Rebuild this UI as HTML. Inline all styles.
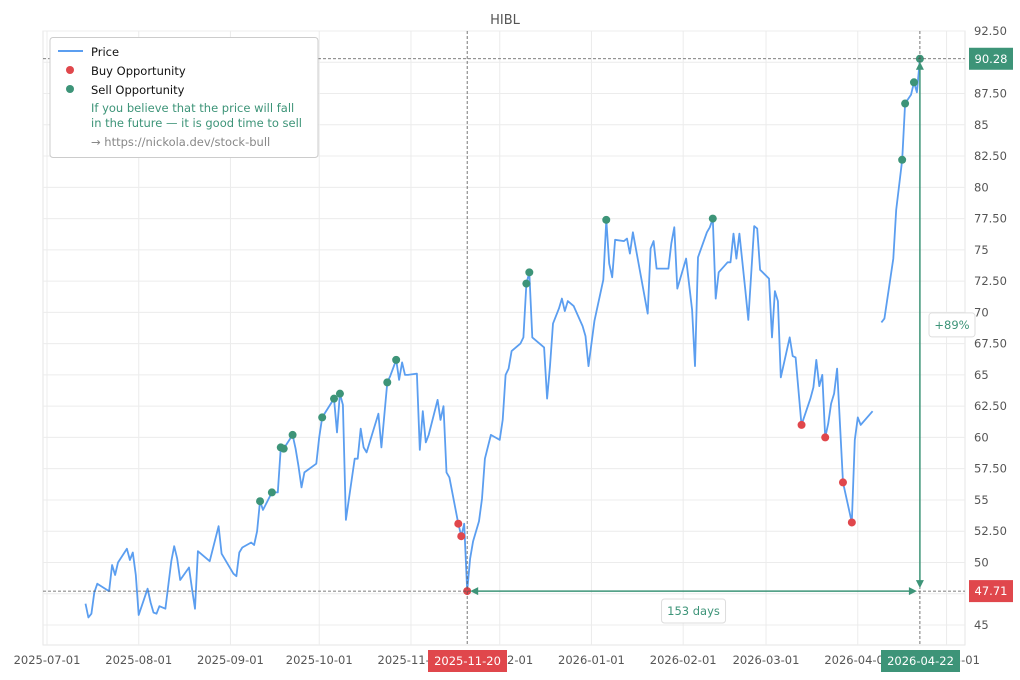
<!DOCTYPE html>
<html><head><meta charset="utf-8">
<style>
body{margin:0;background:#fff;}
svg{display:block;font-family:"DejaVu Sans","Liberation Sans",sans-serif;}
</style></head>
<body>
<svg id="chart" width="1020" height="680" viewBox="0 0 1020 680" xmlns="http://www.w3.org/2000/svg">
<text x="505" y="24" text-anchor="middle" font-size="13" fill="#555">HIBL</text>
<g id="grid"></g>
<g id="series"></g>
<g id="annot"></g>
<g id="legend">
  <rect x="50" y="37.5" width="268" height="120" rx="3" fill="#fff" stroke="#ccc"/>
  <line x1="58" y1="51" x2="83" y2="51" stroke="#5b9ef0" stroke-width="2"/>
  <text x="91" y="56" font-size="11.5" fill="#111">Price</text>
  <circle cx="70" cy="70" r="4" fill="#e0474c"/>
  <text x="91" y="75" font-size="11.5" fill="#111">Buy Opportunity</text>
  <circle cx="70" cy="89" r="4" fill="#3d9478"/>
  <text x="91" y="94" font-size="11.5" fill="#111">Sell Opportunity</text>
  <text x="91" y="112" font-size="11.5" fill="#3d9478">If you believe that the price will fall</text>
  <text x="91" y="127" font-size="11.5" fill="#3d9478">in the future — it is good time to sell</text>
  <text x="91" y="146" font-size="11.5" fill="#888">→ https://nickola.dev/stock-bull</text>
</g>
</svg>
<script>
const tickLabels=["2025-07-01","2025-08-01","2025-09-01","2025-10-01","2025-11-01","2025-12-01","2026-01-01","2026-02-01","2026-03-01","2026-04-01","2026-05-01"];
const tickDays=[0,31,62,92,123,153,184,215,243,274,304];
const yTicks=[45,47.5,50,52.5,55,57.5,60,62.5,65,67.5,70,72.5,75,77.5,80,82.5,85,87.5,90,92.5];
const days=[13,14,15,16,17,21,22,23,24,27,28,29,30,31,34,35,36,37,38,40,42,43,44,45,48,49,50,51,55,58,59,63,64,65,66,69,70,71,72,73,76,78,79,80,83,84,85,86,87,91,92,93,97,98,99,100,101,104,105,106,107,108,112,113,115,116,118,119,120,121,122,125,126,127,128,129,132,133,134,135,136,139,140,141,142,143,144,146,147,148,150,153,154,155,156,157,160,161,162,163,164,168,169,170,171,173,174,175,176,178,181,182,183,185,188,189,190,191,192,195,196,197,198,203,204,205,206,209,210,211,212,213,216,218,219,220,223,224,225,226,227,230,231,232,233,234,236,237,239,240,241,244,245,246,247,248,251,252,253,255,258,259,260,261,262,263,264,265,266,267,269,272,273,274,275,279,280,282,283,286,287,289,290,292,293,294,295];
const prices=[46.7,45.6,45.9,47.6,48.3,47.7,49.8,49.0,50.0,51.1,50.2,50.8,49.0,45.8,47.9,46.8,46.0,45.9,46.5,46.3,50.1,51.3,50.3,48.6,49.6,47.9,46.3,50.9,50.1,52.9,50.7,49.1,48.9,50.8,51.2,51.6,51.4,52.5,54.9,54.2,55.6,55.6,59.2,59.1,60.2,59.1,57.7,56.0,57.2,57.9,60.0,61.6,63.1,60.4,63.5,62.6,53.4,58.3,58.3,60.7,59.2,58.8,61.9,59.2,64.4,64.9,66.2,64.6,66.0,65.0,65.0,65.1,59.0,62.1,59.6,60.2,63.0,61.4,62.5,57.2,56.8,53.1,52.1,53.1,47.71,50.3,51.7,53.3,55.1,58.3,60.2,59.8,61.4,65.0,65.5,66.9,67.5,68.0,72.3,73.2,68.0,67.2,63.1,65.7,69.1,70.3,71.1,70.1,70.9,70.5,68.9,68.1,65.7,69.3,72.6,77.4,73.9,72.8,75.8,75.7,75.9,74.7,76.4,69.9,75.1,75.7,73.5,73.5,73.5,75.5,76.8,71.9,74.3,70.2,65.7,74.4,76.4,76.8,77.5,71.1,73.2,74.0,74.0,76.3,74.3,76.3,71.8,69.4,76.9,76.7,73.4,72.7,68.0,71.7,70.9,64.8,68.0,66.5,66.4,61.0,63.1,64.0,66.2,64.1,65.0,60.0,61.1,62.7,63.5,65.5,56.4,53.2,59.8,61.6,61.0,62.1,null,69.2,69.5,74.3,78.2,82.2,86.7,87.4,88.4,87.6,90.28];
const buyDays=[139,140,142,255,263,269,272];
const sellDays=[72,76,79,80,83,93,97,99,115,118,162,163,189,225,289,290,293,295];
const startDay=142, endDay=295, startPrice=47.71, endPrice=90.28;
const startLabel="2025-11-20", endLabel="2026-04-22", spanLabel="153 days", pctLabel="+89%";

const NS="http://www.w3.org/2000/svg";
const X0=47,PXD=2.959,Y0=31,PXV=12.505;
const xs=d=>X0+d*PXD;
const ys=v=>Y0+(92.5-v)*PXV;
const fmtY=v=>Number.isInteger(v)?String(v):v.toFixed(2);
function mk(tag,attrs,parent,text){const e=document.createElementNS(NS,tag);for(const k in attrs)e.setAttribute(k,attrs[k]);if(text!==undefined)e.textContent=text;parent.appendChild(e);return e;}
const grid=document.getElementById('grid'),ser=document.getElementById('series'),an=document.getElementById('annot');
mk('rect',{x:43,y:31,width:922,height:614,fill:'none',stroke:'#e6e6e6'},grid);
yTicks.forEach(v=>{
  const l=mk('line',{x1:43,x2:965,y1:ys(v),y2:ys(v),stroke:'#ececec'},grid);
  
  
  const t=mk('text',{x:974,y:ys(v)+4,'font-size':11.5,fill:'#555'},grid,fmtY(v));
  
  
});
tickDays.forEach((d,i)=>{
  const l=mk('line',{x1:xs(d),x2:xs(d),y1:31,y2:645,stroke:'#ececec'},grid);
  
  
  const t=mk('text',{x:xs(d),y:664,'font-size':11.5,fill:'#555','text-anchor':'middle'},grid,tickLabels[i]);
  
  
});
[[startPrice,'#e0474c'],[endPrice,'#3d9478']].forEach(([v,c])=>{
  const l=mk('line',{x1:43,x2:965,y1:ys(v),y2:ys(v),stroke:'#555','stroke-dasharray':'3,2','stroke-width':0.8},an);
  
  
});
[startDay,endDay].forEach(d=>{
  const l=mk('line',{x1:xs(d),x2:xs(d),y1:31,y2:645,stroke:'#555','stroke-dasharray':'3,2','stroke-width':0.8},an);
  
  
});
let dstr='',pen=false;
days.forEach((d,i)=>{const p=prices[i];if(p===null){pen=false;return;}dstr+=(pen?'L':'M')+xs(d).toFixed(1)+','+ys(p).toFixed(1);pen=true;});
const line=mk('path',{d:dstr,fill:'none',stroke:'#5b9ef0','stroke-width':1.8,'stroke-linejoin':'round'},ser);


const priceAt=d=>prices[days.indexOf(d)];
buyDays.forEach(d=>{
  const c=mk('circle',{cx:xs(d),cy:ys(priceAt(d)),r:4,fill:'#e0474c'},ser);
  
  
});
sellDays.forEach(d=>{
  const c=mk('circle',{cx:xs(d),cy:ys(priceAt(d)),r:4,fill:'#3d9478'},ser);
  
  
});
const g='#3d9478';
const ax1=xs(startDay),ax2=xs(endDay),ay1=ys(startPrice),ay2=ys(endPrice);
const ha=mk('line',{x1:ax1+6,x2:ax2-6,y1:ay1,y2:ay1,stroke:g,'stroke-width':1.5},an);


mk('path',{d:`M${ax1+3},${ay1}l8,-4v8z M${ax2-3},${ay1}l-8,-4v8z`,fill:g},an);
const va=mk('line',{x1:ax2,x2:ax2,y1:ay1-8,y2:ay2+6,stroke:g,'stroke-width':1.5},an);


mk('path',{d:`M${ax2},${ay1-3}l-4,-8h8z M${ax2},${ay2+3}l-4,8h8z`,fill:g},an);
function box(x,y,w,h,fill,stroke,txt,tc,name){
  const gg=mk('g',{},an);
  
  
  mk('rect',{x,y,width:w,height:h,rx:fill==='#fff'?3:0,fill,stroke},gg);
  mk('text',{x:x+w/2,y:y+h/2+4,'text-anchor':'middle','font-size':11.5,fill:tc},gg,txt);
}
box((ax1+ax2)/2-32,599,64,24,'#fff','#ddd',spanLabel,g,'duration-label');
box(929,ys((startPrice+endPrice)/2)-12,46,24,'#fff','#ddd',pctLabel,g,'change-label');
box(428,650,79,22,'#e0474c','none',startLabel,'#fff','start-date-label');
box(881,650,79,22,'#3d9478','none',endLabel,'#fff','end-date-label');
box(969,ay2-11,44,22,'#3d9478','none',String(endPrice),'#fff','end-price-label');
box(969,ay1-11,44,22,'#e0474c','none',String(startPrice),'#fff','start-price-label');
document.getElementById('chart').appendChild(document.getElementById('legend'));
</script>
</body></html>
